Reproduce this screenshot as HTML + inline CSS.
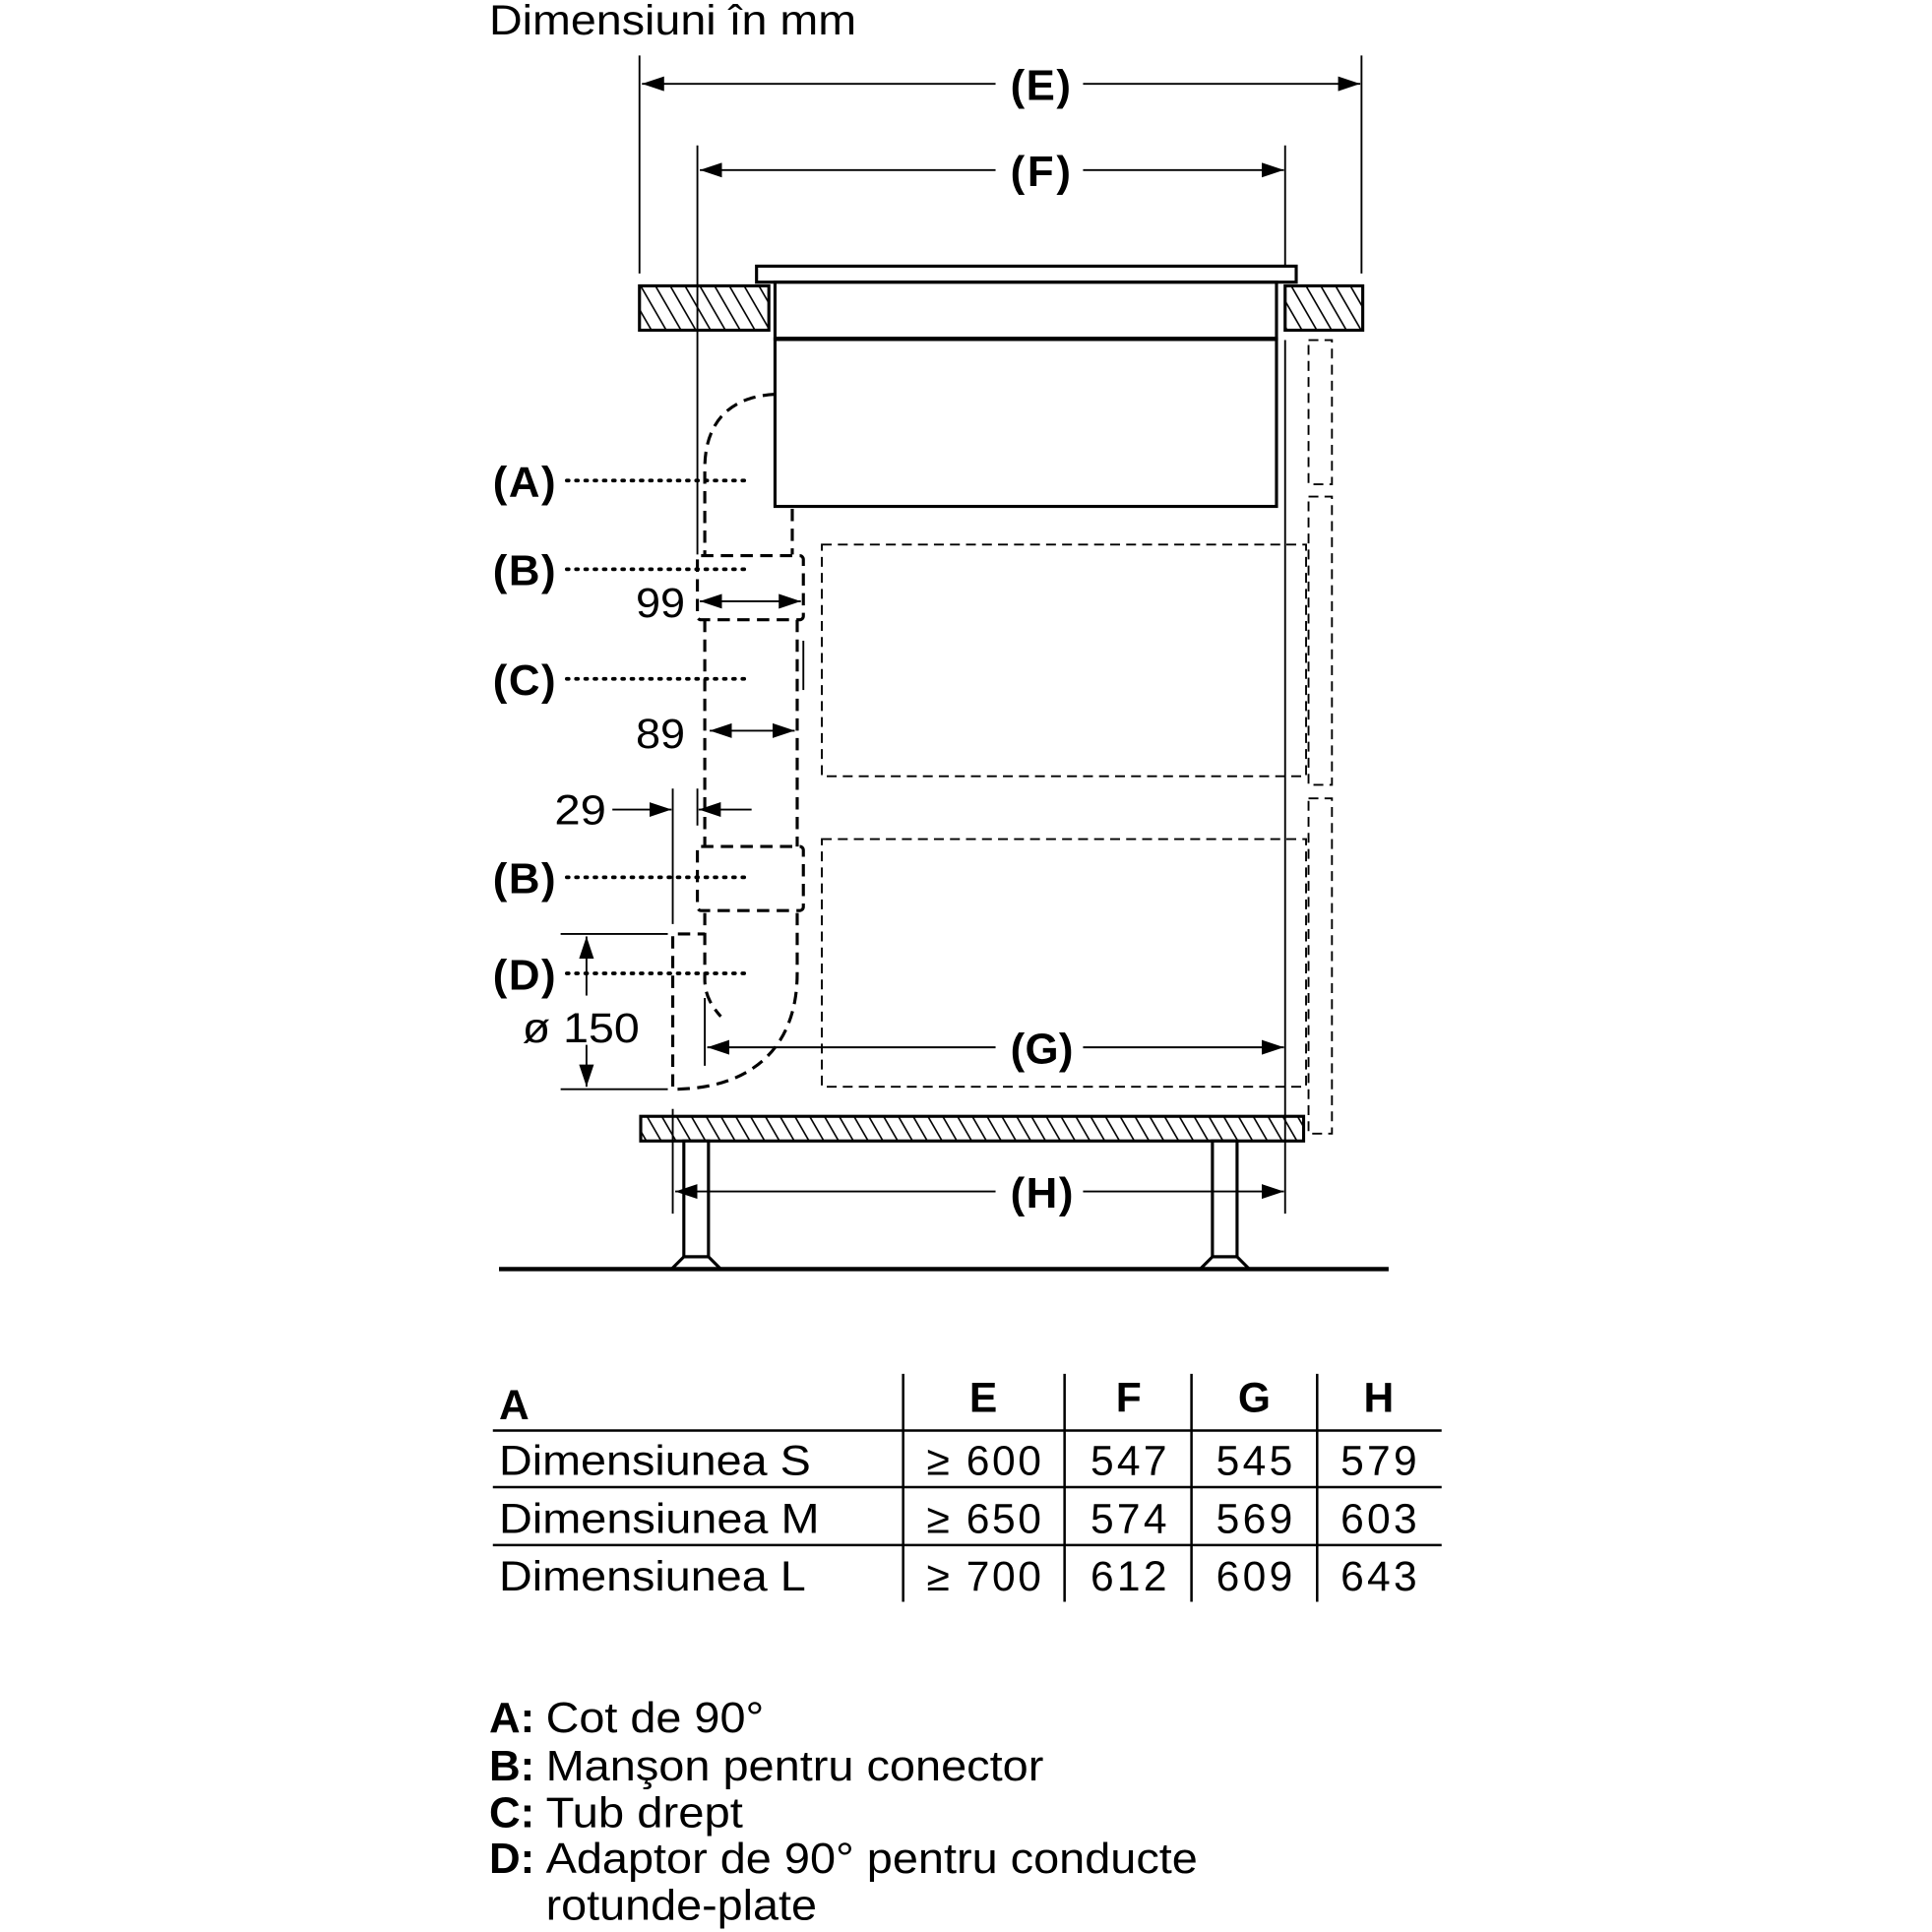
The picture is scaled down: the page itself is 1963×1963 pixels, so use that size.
<!DOCTYPE html>
<html><head><meta charset="utf-8"><style>
html,body{margin:0;padding:0;background:#fff}
svg{display:block}
text{font-family:"Liberation Sans",sans-serif;fill:#000}
.b{font-weight:bold}
</style></head><body>
<svg width="1963" height="1963" viewBox="0 0 1568 1568" xmlns="http://www.w3.org/2000/svg">
<defs>
<pattern id="h" patternUnits="userSpaceOnUse" width="12" height="40" patternTransform="skewX(30)">
<line x1="2" y1="0" x2="2" y2="40" stroke="#000" stroke-width="1.5"/>
</pattern>
<marker id="a" viewBox="0 0 18 12" refX="18" refY="6" markerWidth="18" markerHeight="12" markerUnits="userSpaceOnUse" orient="auto-start-reverse"><path d="M0,0 L18,6 L0,12z" fill="#000"/></marker>
</defs>
<text x="397" y="28" font-size="34" textLength="298" lengthAdjust="spacingAndGlyphs">Dimensiuni în mm</text>

<g stroke="#000" fill="none" stroke-width="1.5">
<line x1="519" y1="45" x2="519" y2="222"/>
<line x1="1105" y1="45" x2="1105" y2="222"/>
<line x1="566" y1="118" x2="566" y2="450"/>
<line x1="1043" y1="118" x2="1043" y2="215"/>
<line x1="1043" y1="276" x2="1043" y2="985"/>
<line x1="521" y1="68" x2="808" y2="68" marker-start="url(#a)"/>
<line x1="879" y1="68" x2="1104" y2="68" marker-end="url(#a)"/>
<line x1="568" y1="138" x2="808" y2="138" marker-start="url(#a)"/>
<line x1="879" y1="138" x2="1042" y2="138" marker-end="url(#a)"/>
<rect x="519" y="232" width="105" height="36" fill="url(#h)" stroke-width="2.5"/>
<rect x="1043" y="232" width="63" height="36" fill="url(#h)" stroke-width="2.5"/>
<rect x="614" y="216" width="438" height="13" stroke-width="2.5" fill="#fff"/>
<rect x="629" y="229" width="407" height="46" stroke-width="2.5"/>
<line x1="629" y1="275" x2="1036" y2="275" stroke-width="3.5"/>
<rect x="629" y="275" width="407" height="136" stroke-width="2.5"/>
<g stroke-dasharray="8,5">
<rect x="1062" y="276" width="19" height="117"/>
<rect x="1062" y="403" width="19" height="234"/>
<rect x="1062" y="648" width="19" height="272"/>
<rect x="667" y="442" width="393" height="188"/>
<rect x="667" y="681" width="393" height="201"/>
</g>
<g stroke-width="2.5" stroke-dasharray="10,6">
<path d="M629,320 C590,322 572,345 572,380 L572,450"/>
<line x1="643" y1="413" x2="643" y2="450"/>
<rect x="566" y="451" width="86" height="52" rx="3"/>
<line x1="572" y1="503" x2="572" y2="687"/>
<line x1="647" y1="503" x2="647" y2="687"/>
<rect x="566" y="687" width="86" height="52" rx="3"/>
<path d="M572,741 L572,795 C572,808 578,817 585,825"/>
<path d="M647,741 L647,790 C647,850 610,884 546,884 L546,758 L572,758"/>
</g>
<line x1="652" y1="520" x2="652" y2="560"/>
<line x1="568" y1="488" x2="650" y2="488" marker-start="url(#a)" marker-end="url(#a)"/>
<line x1="576" y1="593" x2="645" y2="593" marker-start="url(#a)" marker-end="url(#a)"/>
<line x1="497" y1="657" x2="545" y2="657" marker-end="url(#a)"/>
<line x1="610" y1="657" x2="567" y2="657" marker-end="url(#a)"/>
<line x1="546" y1="640" x2="546" y2="750"/>
<line x1="566" y1="640" x2="566" y2="670"/>
<line x1="455" y1="758" x2="542" y2="758"/>
<line x1="455" y1="884" x2="542" y2="884"/>
<line x1="476" y1="808" x2="476" y2="760" marker-end="url(#a)"/>
<line x1="476" y1="848" x2="476" y2="882" marker-end="url(#a)"/>
<line x1="572" y1="810" x2="572" y2="865"/>
<line x1="574" y1="850" x2="808" y2="850" marker-start="url(#a)"/>
<line x1="879" y1="850" x2="1042" y2="850" marker-end="url(#a)"/>
<rect x="520" y="906" width="538" height="20" fill="url(#h)" stroke-width="2.5"/>
<line x1="546" y1="900" x2="546" y2="985"/>
<rect x="555" y="926" width="20" height="94" stroke-width="2.5" fill="#fff"/>
<rect x="984" y="926" width="20" height="94" stroke-width="2.5" fill="#fff"/>
<path d="M555,1020 L545,1030 L585,1030 L575,1020z" stroke-width="2.5"/>
<path d="M984,1020 L974,1030 L1014,1030 L1004,1020z" stroke-width="2.5"/>
<line x1="405" y1="1030" x2="1127" y2="1030" stroke-width="3.5"/>
<line x1="548" y1="967" x2="808" y2="967" marker-start="url(#a)"/>
<line x1="879" y1="967" x2="1042" y2="967" marker-end="url(#a)"/>
<g stroke-width="3" stroke-dasharray="1.5,6" stroke-linecap="round">
<line x1="460" y1="390" x2="605" y2="390"/>
<line x1="460" y1="462" x2="605" y2="462"/>
<line x1="460" y1="551" x2="605" y2="551"/>
<line x1="460" y1="712" x2="605" y2="712"/>
<line x1="460" y1="790" x2="605" y2="790"/>
</g>
<g stroke-width="2">
<line x1="733" y1="1115" x2="733" y2="1300"/>
<line x1="864" y1="1115" x2="864" y2="1300"/>
<line x1="967" y1="1115" x2="967" y2="1300"/>
<line x1="1069" y1="1115" x2="1069" y2="1300"/>
<line x1="400" y1="1161" x2="1170" y2="1161"/>
<line x1="400" y1="1207" x2="1170" y2="1207"/>
<line x1="400" y1="1254" x2="1170" y2="1254"/>
</g>
</g>

<g font-size="35" class="b" lengthAdjust="spacingAndGlyphs">
<text class="b" x="820" y="81" textLength="49">(E)</text>
<text class="b" x="820" y="151" textLength="49">(F)</text>
<text class="b" x="820" y="863" textLength="51">(G)</text>
<text class="b" x="820" y="980" textLength="51">(H)</text>
<text class="b" x="400" y="403" textLength="51">(A)</text>
<text class="b" x="400" y="475" textLength="51">(B)</text>
<text class="b" x="400" y="564" textLength="51">(C)</text>
<text class="b" x="400" y="725" textLength="51">(B)</text>
<text class="b" x="400" y="803" textLength="51">(D)</text>
</g>
<g font-size="34">
<text x="516" y="501" textLength="40" lengthAdjust="spacingAndGlyphs">99</text>
<text x="516" y="607" textLength="40" lengthAdjust="spacingAndGlyphs">89</text>
<text x="450" y="669" textLength="42" lengthAdjust="spacingAndGlyphs">29</text>
<text x="424" y="846" textLength="95" lengthAdjust="spacingAndGlyphs">ø 150</text>
</g>

<g font-size="34">
<text class="b" x="405" y="1152">A</text>
<text class="b" x="798" y="1146" text-anchor="middle">E</text>
<text class="b" x="916" y="1146" text-anchor="middle">F</text>
<text class="b" x="1018" y="1146" text-anchor="middle">G</text>
<text class="b" x="1119" y="1146" text-anchor="middle">H</text>
<text x="405" y="1197" textLength="253" lengthAdjust="spacingAndGlyphs">Dimensiunea S</text>
<text x="405" y="1244" textLength="260" lengthAdjust="spacingAndGlyphs">Dimensiunea M</text>
<text x="405" y="1291" textLength="249" lengthAdjust="spacingAndGlyphs">Dimensiunea L</text>
<g lengthAdjust="spacingAndGlyphs">
<text x="752" y="1197" textLength="93">≥ 600</text><text x="885" y="1197" textLength="62">547</text><text x="987" y="1197" textLength="62">545</text><text x="1088" y="1197" textLength="62">579</text>
<text x="752" y="1244" textLength="93">≥ 650</text><text x="885" y="1244" textLength="62">574</text><text x="987" y="1244" textLength="62">569</text><text x="1088" y="1244" textLength="62">603</text>
<text x="752" y="1291" textLength="93">≥ 700</text><text x="885" y="1291" textLength="62">612</text><text x="987" y="1291" textLength="62">609</text><text x="1088" y="1291" textLength="62">643</text>
</g>
</g>

<g font-size="35">
<text class="b" x="397" y="1406">A:</text><text x="443" y="1406" textLength="177" lengthAdjust="spacingAndGlyphs">Cot de 90°</text>
<text class="b" x="397" y="1445">B:</text><text x="443" y="1445" textLength="404" lengthAdjust="spacingAndGlyphs">Manşon pentru conector</text>
<text class="b" x="397" y="1483">C:</text><text x="443" y="1483" textLength="160" lengthAdjust="spacingAndGlyphs">Tub drept</text>
<text class="b" x="397" y="1520">D:</text><text x="443" y="1520" textLength="529" lengthAdjust="spacingAndGlyphs">Adaptor de 90° pentru conducte</text>
<text x="443" y="1558" textLength="220" lengthAdjust="spacingAndGlyphs">rotunde-plate</text>
</g>
</svg>
</body></html>
